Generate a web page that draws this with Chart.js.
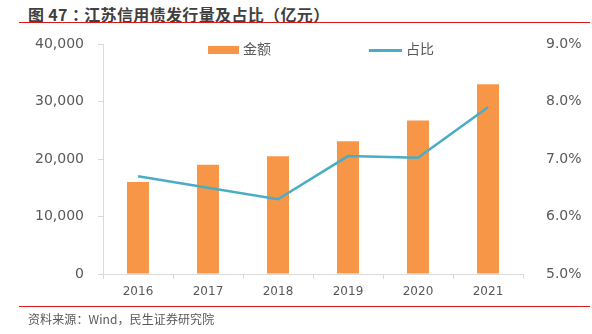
<!DOCTYPE html>
<html>
<head>
<meta charset="utf-8">
<script src="https://cdn.jsdelivr.net/npm/chart.js@4"></script>
<style>
  body { margin: 0; width: 592px; height: 334px; position: relative; background: #fff; overflow: hidden; }
  #title { position: absolute; left: 28px; top: 2px; font: bold 16px "Noto Sans CJK TC", sans-serif; color: #404040; white-space: nowrap; letter-spacing: 0.35px; }
  .rule { position: absolute; left: 19px; width: 571px; height: 1px; background: #d7191c; }
  #source { position: absolute; left: 28px; top: 310px; font: 12px "Noto Sans CJK SC", sans-serif; color: #595959; white-space: nowrap; letter-spacing: 0.1px; }
  #wrap { position: absolute; left: 0; top: 0; width: 592px; height: 334px; }
  .leg { position: absolute; top: 38px; font: 14px "Noto Sans CJK SC", sans-serif; color: #595959; white-space: nowrap; }
  .leg span { display: inline-block; vertical-align: middle; margin-right: 4px; }
</style>
</head>
<body>
<div id="title">图 47：江苏信用债发行量及占比（亿元）</div>
<div class="rule" style="top:22px"></div>
<div id="wrap"><canvas id="myChart"></canvas></div>
<div class="leg" style="left:208px"><span style="width:31px;height:8px;background:#F79646"></span>金额</div>
<div class="leg" style="left:369px"><span style="width:33px;height:3px;background:#4BACC6"></span>占比</div>
<div class="rule" style="top:306px"></div>
<div id="source">资料来源：Wind，民生证券研究院</div>
<script>
const years = ["2016", "2017", "2018", "2019", "2020", "2021"];
const amount = [16000, 19000, 20500, 23100, 26700, 33000];
const share = [6.70, 6.50, 6.30, 7.05, 7.02, 7.90];

const ctx = document.getElementById("myChart");
const tickFont = { family: "DejaVu Sans", size: 14 };

new Chart(ctx, {
  data: {
    labels: years,
    datasets: [
      {
        type: "line",
        label: "占比",
        data: share,
        yAxisID: "y2",
        borderColor: "#4BACC6",
        borderWidth: 2.5,
        pointRadius: 0,
        tension: 0,
        order: 0,
      },
      {
        type: "bar",
        label: "金额",
        data: amount,
        yAxisID: "y",
        backgroundColor: "#F79646",
        barPercentage: 1,
        categoryPercentage: 0.314,
        order: 1,
      },
    ],
  },
  options: {
    responsive: true,
    maintainAspectRatio: false,
    animation: false,
    layout: { padding: { top: 44, bottom: 30, left: 0, right: 0 } },
    plugins: { legend: { display: false }, tooltip: { enabled: false } },
    scales: {
      x: {
        grid: { drawOnChartArea: false, tickLength: 5, color: "#d9d9d9", offset: true },
        border: { color: "#d9d9d9" },
        ticks: { color: "#595959", font: { family: "DejaVu Sans", size: 12 }, padding: 6 },
        afterFit: (s) => { s.height = 30; },
      },
      y: {
        position: "left",
        min: 0,
        max: 40000,
        grid: { drawOnChartArea: false, tickLength: 5, color: "#d9d9d9" },
        border: { color: "#d9d9d9" },
        ticks: {
          stepSize: 10000,
          color: "#595959",
          font: tickFont,
          padding: 14,
          callback: (v) => v.toLocaleString("en-US"),
        },
        afterFit: (s) => { s.width = 103; },
      },
      y2: {
        position: "right",
        min: 5,
        max: 9,
        grid: { display: false },
        border: { display: false },
        ticks: {
          stepSize: 1,
          color: "#595959",
          font: tickFont,
          padding: 15,
          callback: (v) => v.toFixed(1) + "%",
        },
        afterFit: (s) => { s.width = 69; },
      },
    },
  },
});
</script>
</body>
</html>
